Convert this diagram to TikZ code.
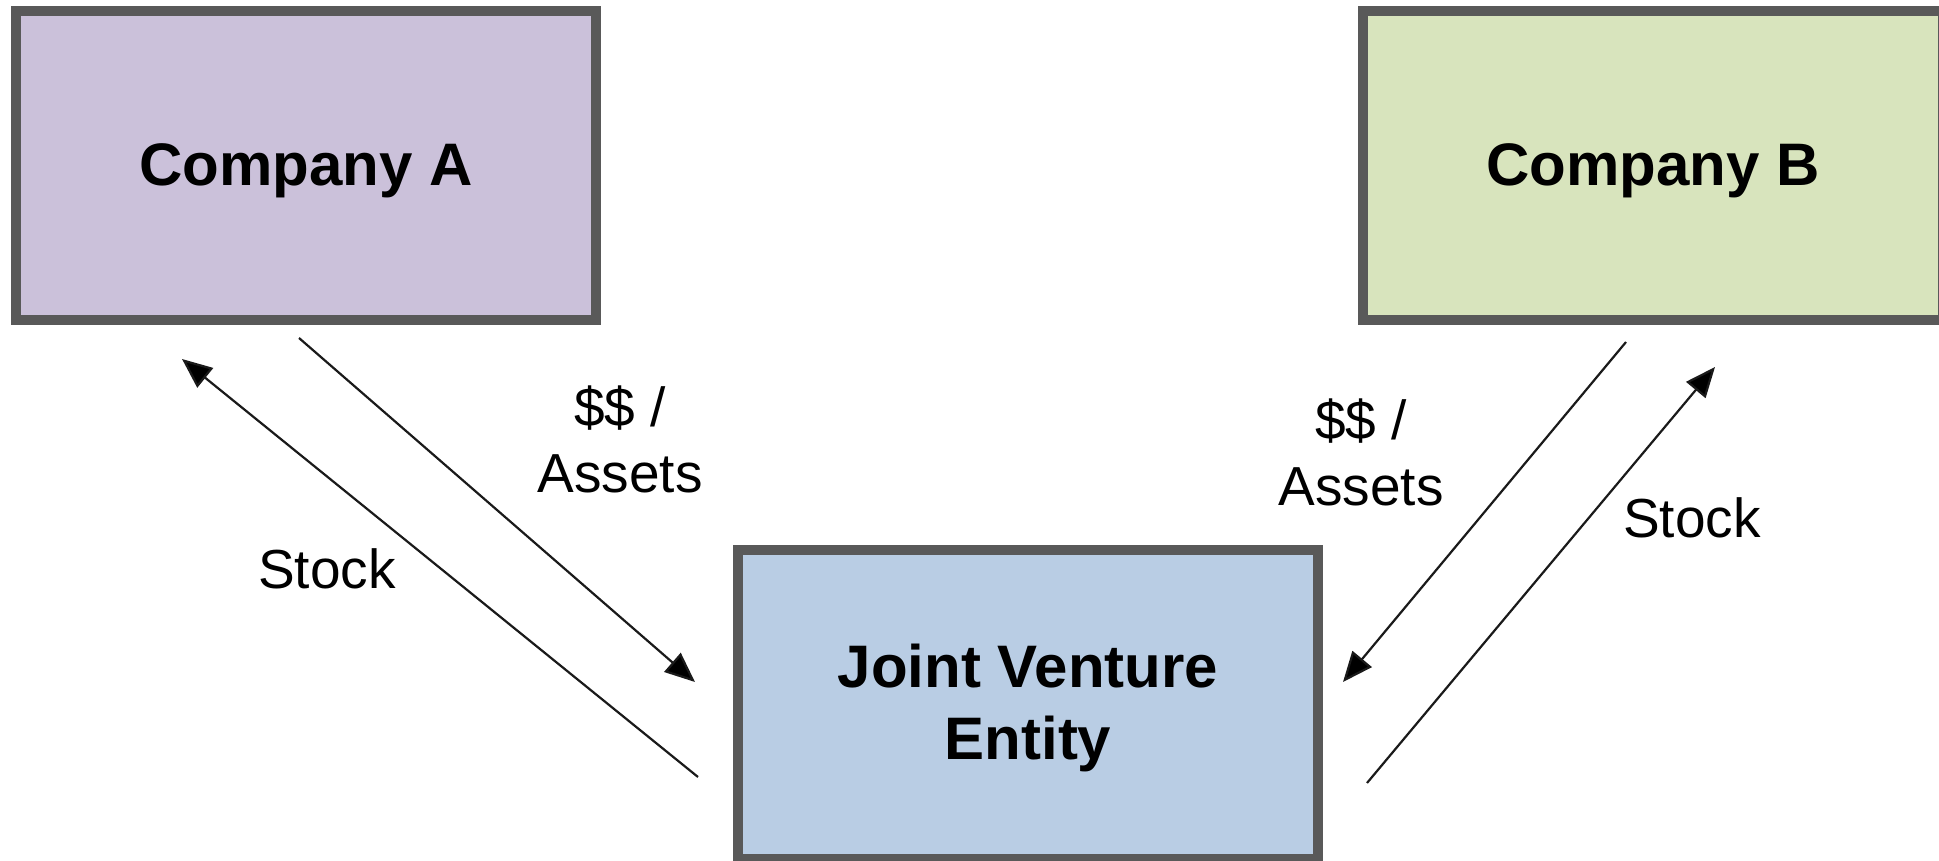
\documentclass[tikz,border=0pt]{standalone}
\usepackage{fontspec}
\setmainfont{Liberation Sans}
\usetikzlibrary{arrows.meta}
\definecolor{afill}{HTML}{CBC1DA}
\definecolor{bfill}{HTML}{D8E4BD}
\definecolor{jvfill}{HTML}{B9CDE4}
\definecolor{bordergray}{HTML}{595959}
\definecolor{linecol}{HTML}{1A1A1A}
\newcommand{\twoline}[2]{\vtop{\halign{\hfil##\hfil\cr#1\cr#2\cr}}}
\begin{document}
\begin{tikzpicture}[x=1pt,y=-1pt,
  company/.style={draw=bordergray, line width=10pt, minimum width=580pt, minimum height=309pt, inner sep=0pt, font=\fontsize{60}{72}\selectfont\bfseries},
  flow/.style={draw=linecol, line width=2.2pt, -{Triangle[length=30pt,width=25pt,fill=black]}},
  lbl/.style={font=\fontsize{55}{66}\selectfont, inner sep=0pt, anchor=base}]
\useasboundingbox (0,0) rectangle (1939,861);
\node[company, fill=afill, text height=50pt, text depth=9pt] (ca) at (306,165.5) {Company A};
\node[company, fill=bfill, text height=50pt, text depth=9pt] (cb) at (1653,165.5) {Company B};
\node[company, fill=jvfill, text height=45pt, text depth=80pt] (jv) at (1028,704.5) {\twoline{Joint Venture}{Entity}};
\coordinate (a1s) at (299,338);
\coordinate (a1e) at (695,682);
\coordinate (a2s) at (698,777);
\coordinate (a2e) at (182,359);
\coordinate (b1s) at (1626,342);
\coordinate (b1e) at (1343,682);
\coordinate (b2s) at (1367,783);
\coordinate (b2e) at (1715,367);
\draw[flow] (a1s) -- (a1e);
\draw[flow] (a2s) -- (a2e);
\draw[flow] (b1s) -- (b1e);
\draw[flow] (b2s) -- (b2e);
\node[lbl] (la) at (620,426) {\twoline{\$\$ /}{Assets}};
\node[lbl] (sa) at (327,588) {Stock};
\node[lbl] (lb) at (1361,439) {\twoline{\$\$ /}{Assets}};
\node[lbl] (sb) at (1692,537) {Stock};
\end{tikzpicture}
\end{document}
